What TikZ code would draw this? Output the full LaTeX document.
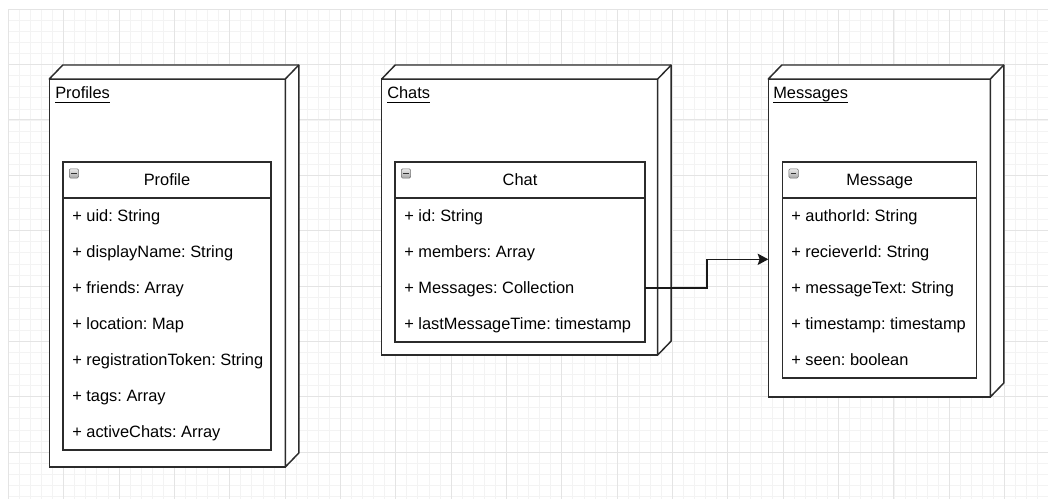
\documentclass[tikz,border=0pt]{standalone}
\usepackage{fontspec}
\setmainfont{Liberation Sans}
\usetikzlibrary{arrows.meta, positioning, calc}
\definecolor{gridmajor}{HTML}{E4E4E4}
\definecolor{gridminor}{HTML}{F3F3F3}
\definecolor{edgegray}{HTML}{2B2B2B}
\newcommand{\ulname}[1]{\setbox0\hbox{#1}\rlap{\vrule height -2.4pt depth 3.5pt width \wd0}\box0}
\frenchspacing

\begin{document}
\begin{tikzpicture}[
            x=0.75pt, y=-0.75pt,
            every node/.style={font=\fontsize{12.3}{14}\selectfont},
            minorline/.style={gridminor, line width=0.6pt},
            majorline/.style={gridmajor, line width=0.75pt},
            cube/.style={draw=edgegray, line width=1.1pt, fill=white,
                inner sep=0pt, outer sep=0pt, anchor=north west},
            cubeside/.style={draw=edgegray, line width=1.1pt, line join=round},
            title/.style={anchor=base west, inner sep=0pt},
            classbox/.style={draw=edgegray, line width=1.1pt, fill=white,
                inner sep=0pt, outer sep=0pt, anchor=north west},
            header/.style={classbox, minimum height=36*0.75pt,
                text height=8.8pt, text depth=0pt},
            attr/.style={anchor=west, inner sep=0pt, text height=8.8pt, text depth=0pt},
            icon/.style={draw=black!55, top color=black!8, bottom color=black!35,
                rounded corners=1pt, minimum size=7pt, inner sep=0pt, anchor=north west,
                path picture={\draw[black!80, line width=1pt]
                    ([xshift=1.4pt]path picture bounding box.west) --
                    ([xshift=-1.4pt]path picture bounding box.east);}},
            flow/.style={draw=black!90, line width=1.1pt, -{Stealth[length=8pt, width=8.5pt, inset=1.5pt]}}
        ]
        \def\dx{13.5}
        \def\dy{14}
        \useasboundingbox (0,0) rectangle (1048,499);

        % background grid
        \foreach \i in {0,...,94}
            \draw[minorline] ({8.3+11.07*\i},9.3) -- ({8.3+11.07*\i},499);
        \foreach \j in {0,...,44}
            \draw[minorline] (8.3,{9.3+11.07*\j}) -- (1048,{9.3+11.07*\j});
        \foreach \i in {0,...,18}
            \draw[majorline] ({8.3+55.35*\i},9.3) -- ({8.3+55.35*\i},499);
        \foreach \j in {0,...,8}
            \draw[majorline] (8.3,{9.3+55.35*\j}) -- (1048,{9.3+55.35*\j});

        % collections
        \node[cube, minimum width=236*0.75pt, minimum height=388*0.75pt] (profBox) at (49.3,79) {};
        \node[cube, minimum width=276*0.75pt, minimum height=276*0.75pt] (chatBox) at (381.7,79) {};
        \node[cube, minimum width=222*0.75pt, minimum height=318*0.75pt] (msgBox) at (768.3,79) {};
        \foreach \b in {profBox, chatBox, msgBox} {
            \draw[cubeside, fill=white] (\b.north west) -- ++(\dx,-\dy)
                -| ([shift={(\dx,-\dy)}]\b.south east) -- (\b.south east)
                -- (\b.north east) -- cycle;
            \draw[cubeside] (\b.north east) -- ++(\dx,-\dy);
        }
        \node[title] (profTitle) at (55,98.7) {\ulname{Profiles}};
        \node[title] (chatTitle) at (387,98.7) {\ulname{Chats}};
        \node[title] (msgTitle) at (773,98.7) {\ulname{Messages}};

        % documents
        \node[classbox, minimum width=208*0.75pt, minimum height=288*0.75pt] (profTable) at (63,162) {};
        \node[header, minimum width=208*0.75pt] (profHead) at (63,162) {Profile};
        \node[icon] (profIcon) at (69,168.5) {};
        \foreach \txt [count=\i] in {+ uid: String, + displayName: String, + friends: Array,
                + location: Map, + registrationToken: String, + tags: Array, + activeChats: Array}
            \node[attr] (prof-\i) at (72,{180+36*\i}) {\txt};

        \node[classbox, minimum width=250*0.75pt, minimum height=180*0.75pt] (chatTable) at (395,162) {};
        \node[header, minimum width=250*0.75pt] (chatHead) at (395,162) {Chat};
        \node[icon] (chatIcon) at (401,168.5) {};
        \foreach \txt [count=\i] in {+ id: String, + members: Array, + Messages: Collection,
                + lastMessageTime: timestamp}
            \node[attr] (chat-\i) at (404,{180+36*\i}) {\txt};

        \node[classbox, minimum width=194*0.75pt, minimum height=216*0.75pt] (msgTable) at (782.7,162) {};
        \node[header, minimum width=194*0.75pt] (msgHead) at (782.7,162) {Message};
        \node[icon] (msgIcon) at (788.7,168.5) {};
        \foreach \txt [count=\i] in {+ authorId: String, + recieverId: String, + messageText: String,
                + timestamp: timestamp, + seen: boolean}
            \node[attr] (msg-\i) at (791,{180+36*\i}) {\txt};

        % reference to subcollection
        \coordinate (turn) at (707,259.3);
        \draw[flow] (chatTable.east |- chat-3) -| (turn) -- (turn -| msgBox.west);
    \end{tikzpicture}
\end{document}
